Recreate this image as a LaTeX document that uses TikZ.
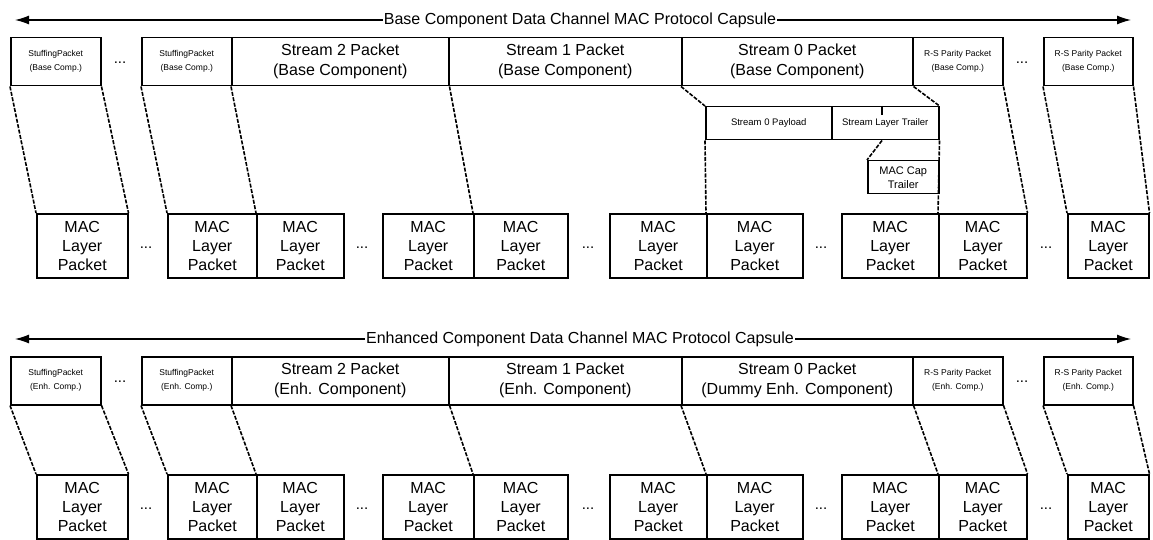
\documentclass[tikz,border=0pt]{standalone}
\usepackage{fontspec}
\setmainfont{Liberation Sans}
\usetikzlibrary{arrows.meta,positioning}

\tikzset{
  box/.style={draw, line width=1.5pt, inner sep=0pt, anchor=north west, align=center},
  pkt/.style={box, minimum height=48pt, font=\fontsize{16}{20}\selectfont},
  tinypkt/.style={box, minimum width=90pt, minimum height=48pt, font=\fontsize{8.5}{14}\selectfont},
  macpkt/.style={box, minimum height=64pt, font=\fontsize{16}{19}\selectfont},
  subpkt/.style={box, minimum height=33pt, font=\fontsize{9.5}{12}\selectfont},
  mapline/.style={dash pattern=on 4pt off 1.5pt, line width=1.6pt},
  elide/.style={font=\fontsize{15}{15}\selectfont},
  capspan/.style={{Latex[length=14pt,width=9pt]}-{Latex[length=14pt,width=9pt]}, line width=1.3pt},
  caplbl/.style={fill=white, inner sep=1pt, font=\fontsize{16}{18}\selectfont}
}

\begin{document}
\begin{tikzpicture}[x=1pt, y=-1pt]
  \useasboundingbox (0,0) rectangle (1153,540);

  %% Base component capsule
  \coordinate (bl) at (15,20);
  \coordinate (br) at (1131,20);
  \draw[capspan] (bl) -- (br);
  \node[caplbl] (bcap) at (580,20) {Base Component Data Channel MAC Protocol Capsule};

  \node[tinypkt] (bsf1) at (10,37) {StuffingPacket\\(Base Comp.)};
  \node[elide]   (bd1)  at (120,63) {...};
  \node[tinypkt] (bsf2) at (141,37) {StuffingPacket\\(Base Comp.)};
  \node[pkt, minimum width=217pt] (bs2) at (231,37) {Stream 2 Packet\\(Base Component)};
  \node[pkt, minimum width=233pt] (bs1) at (448,37) {Stream 1 Packet\\(Base Component)};
  \node[pkt, minimum width=231pt] (bs0) at (681,37) {Stream 0 Packet\\(Base Component)};
  \node[tinypkt] (brs1) at (912,37) {R-S Parity Packet\\(Base Comp.)};
  \node[elide]   (bd2)  at (1022,63) {...};
  \node[tinypkt, minimum width=89pt] (brs2) at (1043,37) {R-S Parity Packet\\(Base Comp.)};

  %% Stream 0 split
  \node[subpkt, minimum width=126pt] (pay) at (705,106) {Stream 0 Payload};
  \node[subpkt, minimum width=107pt] (trl) at (831,106) {Stream Layer Trailer};
  \node[subpkt, minimum width=71pt, font=\fontsize{11}{14}\selectfont] (cap) at (867,160) {MAC Cap\\Trailer};
  \draw[line width=1.5pt] ([xshift=51pt]trl.north west) -- ++(0,9);

  %% Base MAC layer packets
  \node[macpkt, minimum width=91pt] (bm1)  at (36,213)   {MAC\\Layer\\Packet};
  \node[elide] (bd3) at (146,248) {...};
  \node[macpkt, minimum width=89pt] (bm2)  at (167,213)  {MAC\\Layer\\Packet};
  \node[macpkt, minimum width=87pt] (bm3)  at (256,213)  {MAC\\Layer\\Packet};
  \node[elide] (bd4) at (362,248) {...};
  \node[macpkt, minimum width=91pt] (bm4)  at (382,213)  {MAC\\Layer\\Packet};
  \node[macpkt, minimum width=94pt] (bm5)  at (473,213)  {MAC\\Layer\\Packet};
  \node[elide] (bd5) at (588,248) {...};
  \node[macpkt, minimum width=97pt] (bm6)  at (609,213)  {MAC\\Layer\\Packet};
  \node[macpkt, minimum width=96pt] (bm7)  at (706,213)  {MAC\\Layer\\Packet};
  \node[elide] (bd6) at (821,248) {...};
  \node[macpkt, minimum width=97pt] (bm8)  at (841,213)  {MAC\\Layer\\Packet};
  \node[macpkt, minimum width=88pt] (bm9)  at (938,213)  {MAC\\Layer\\Packet};
  \node[elide] (bd7) at (1046,248) {...};
  \node[macpkt, minimum width=81pt] (bm10) at (1067,213) {MAC\\Layer\\Packet};

  \draw[mapline] (bsf1.south west) -- (bm1.north west);
  \draw[mapline] (bsf1.south east) -- (bm1.north east);
  \draw[mapline] (bsf2.south west) -- (bm2.north west);
  \draw[mapline] (bs2.south west)  -- (bm3.north west);
  \draw[mapline] (bs2.south east)  -- (bm5.north west);
  \draw[mapline] (bs0.south west)  -- (pay.north west);
  \draw[mapline] (bs0.south east)  -- (trl.north east);
  \draw[mapline] (pay.south west)  -- (bm7.north west);
  \draw[mapline] (trl.south east)  -- (bm9.north west);
  \draw[mapline] ([xshift=51pt]trl.south west) -- (cap.north west);
  \draw[mapline] (brs1.south east) -- (bm9.north east);
  \draw[mapline] (brs2.south west) -- (bm10.north west);
  \draw[mapline] (brs2.south east) -- (bm10.north east);

  %% Enhanced component capsule
  \coordinate (el) at (15,339);
  \coordinate (er) at (1131,339);
  \draw[capspan] (el) -- (er);
  \node[caplbl] (ecap) at (580,339) {Enhanced Component Data Channel MAC Protocol Capsule};

  \node[tinypkt] (esf1) at (10,356) {StuffingPacket\\(Enh. Comp.)};
  \node[elide]   (ed1)  at (120,382) {...};
  \node[tinypkt] (esf2) at (141,356) {StuffingPacket\\(Enh. Comp.)};
  \node[pkt, minimum width=217pt] (es2) at (231,356) {Stream 2 Packet\\(Enh. Component)};
  \node[pkt, minimum width=233pt] (es1) at (448,356) {Stream 1 Packet\\(Enh. Component)};
  \node[pkt, minimum width=231pt] (es0) at (681,356) {Stream 0 Packet\\(Dummy Enh. Component)};
  \node[tinypkt] (ers1) at (912,356) {R-S Parity Packet\\(Enh. Comp.)};
  \node[elide]   (ed2)  at (1022,382) {...};
  \node[tinypkt, minimum width=89pt] (ers2) at (1043,356) {R-S Parity Packet\\(Enh. Comp.)};

  %% Enhanced MAC layer packets
  \node[macpkt, minimum width=91pt] (em1)  at (36,474)   {MAC\\Layer\\Packet};
  \node[elide] (ed3) at (146,509) {...};
  \node[macpkt, minimum width=89pt] (em2)  at (167,474)  {MAC\\Layer\\Packet};
  \node[macpkt, minimum width=87pt] (em3)  at (256,474)  {MAC\\Layer\\Packet};
  \node[elide] (ed4) at (362,509) {...};
  \node[macpkt, minimum width=91pt] (em4)  at (382,474)  {MAC\\Layer\\Packet};
  \node[macpkt, minimum width=94pt] (em5)  at (473,474)  {MAC\\Layer\\Packet};
  \node[elide] (ed5) at (588,509) {...};
  \node[macpkt, minimum width=97pt] (em6)  at (609,474)  {MAC\\Layer\\Packet};
  \node[macpkt, minimum width=96pt] (em7)  at (706,474)  {MAC\\Layer\\Packet};
  \node[elide] (ed6) at (821,509) {...};
  \node[macpkt, minimum width=97pt] (em8)  at (841,474)  {MAC\\Layer\\Packet};
  \node[macpkt, minimum width=88pt] (em9)  at (938,474)  {MAC\\Layer\\Packet};
  \node[elide] (ed7) at (1046,509) {...};
  \node[macpkt, minimum width=81pt] (em10) at (1067,474) {MAC\\Layer\\Packet};

  \draw[mapline] (esf1.south west) -- (em1.north west);
  \draw[mapline] (esf1.south east) -- (em1.north east);
  \draw[mapline] (esf2.south west) -- (em2.north west);
  \draw[mapline] (es2.south west)  -- (em3.north west);
  \draw[mapline] (es2.south east)  -- (em5.north west);
  \draw[mapline] (es0.south west)  -- (em7.north west);
  \draw[mapline] (es0.south east)  -- (em9.north west);
  \draw[mapline] (ers1.south east) -- (em9.north east);
  \draw[mapline] (ers2.south west) -- (em10.north west);
  \draw[mapline] (ers2.south east) -- (em10.north east);
\end{tikzpicture}
\end{document}
